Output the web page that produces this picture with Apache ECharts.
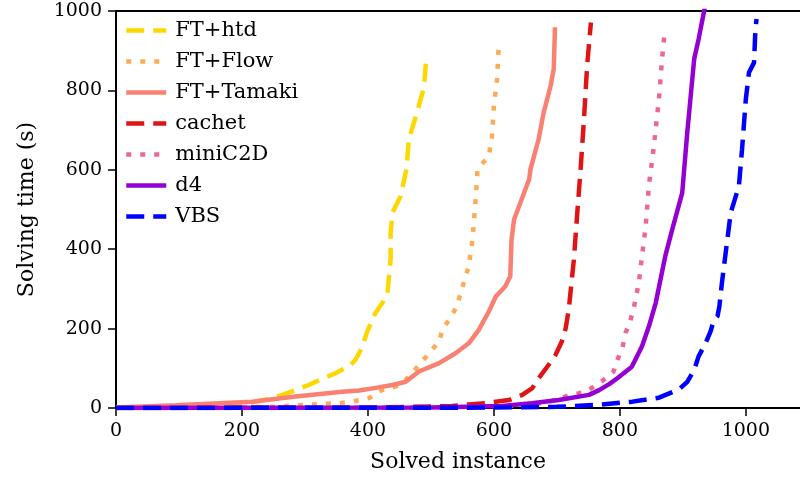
<!DOCTYPE html>
<html>
<head>
<meta charset="utf-8">
<script src="https://cdn.jsdelivr.net/npm/echarts@6/dist/echarts.min.js"></script>
<style>
  html, body { margin: 0; padding: 0; background: #fff; }
  #chart { width: 800px; height: 479px; }
</style>
</head>
<body>
<div id="chart"></div>
<script>
var names = ['FT+htd', 'FT+Flow', 'FT+Tamaki', 'cachet', 'miniC2D', 'd4', 'VBS'];

var htdX = [0, 100, 180, 216, 240, 264, 290, 306, 330, 349, 370, 380, 390, 399, 412, 423, 431, 436, 436, 439, 452, 461, 465, 478, 489, 492];
var htdY = [0, 2, 6, 14, 22, 33, 48, 58, 75, 88, 105, 121, 150, 193, 240, 265, 290, 374, 441, 492, 534, 601, 677, 745, 808, 870];

var flowX = [0, 150, 250, 300, 354, 380, 402, 422, 444, 460, 486, 497, 513, 518, 531, 541, 552, 560, 566, 571, 574, 592, 597, 600, 605, 608];
var flowY = [0, 1, 3, 8, 12, 18, 25, 45, 54, 71, 117, 138, 167, 197, 227, 256, 315, 357, 424, 525, 601, 635, 685, 761, 828, 925];

var tamakiX = [0, 95, 216, 285, 359, 386, 417, 439, 460, 481, 513, 539, 560, 576, 592, 603, 618, 626, 628, 632, 642, 656, 658, 671, 679, 690, 695, 697];
var tamakiY = [1, 7, 16, 29, 41, 44, 52, 58, 66, 92, 113, 138, 163, 197, 243, 281, 306, 332, 424, 475, 517, 576, 601, 677, 744, 811, 854, 959];

var cachetX = [0, 400, 533, 560, 587, 603, 624, 645, 661, 671, 687, 698, 708, 714, 719, 727, 732, 738, 743, 748, 754];
var cachetY = [0, 1, 5, 9, 12, 16, 20, 33, 50, 75, 109, 134, 168, 201, 250, 374, 483, 609, 727, 862, 971];

var miniX = [0, 500, 600, 660, 692, 714, 746, 772, 790, 796, 804, 809, 816, 822, 830, 841, 846, 854, 862, 867, 871];
var miniY = [0, 1, 3, 8, 18, 29, 41, 68, 92, 121, 151, 189, 216, 252, 315, 458, 559, 660, 778, 879, 946];

var d4X = [0, 500, 613, 660, 703, 751, 767, 783, 796, 819, 835, 846, 857, 872, 883, 899, 907, 912, 918, 925, 935];
var d4Y = [0, 1, 5, 12, 20, 33, 45, 60, 75, 104, 155, 205, 265, 382, 449, 542, 694, 778, 879, 929, 1010];

var vbsX = [0, 600, 700, 767, 820, 862, 894, 907, 918, 925, 936, 944, 949, 955, 958, 962, 968, 976, 989, 994, 1000, 1005, 1013, 1015, 1017];
var vbsY = [0, 1, 3, 8, 16, 26, 47, 66, 96, 130, 163, 193, 220, 231, 256, 315, 391, 492, 559, 652, 778, 845, 870, 946, 980];

var xTicks = [0, 200, 400, 600, 800, 1000];
var yTicks = [0, 200, 400, 600, 800, 1000];

var colors = ['#FFD700', '#FFAA55', '#FA8072', '#E01414', '#EE6699', '#9400D3', '#0000FF'];

function pairs(xs, ys) {
    return xs.map(function (x, i) { return [x, ys[i]]; });
}

var dashed = [18, 9];
var dotted = [5, 9];

var myChart = echarts.init(document.getElementById('chart'));

function line(name, xs, ys, color, type) {
    return {
        name: name,
        type: 'line',
        data: pairs(xs, ys),
        symbol: 'none',
        lineStyle: { color: color, width: 4.5, type: type, cap: 'butt' },
        itemStyle: { color: color },
        emphasis: { disabled: true },
        animation: false
    };
}

var font = 'DejaVu Serif';

var option = {
    animation: false,
    color: colors,
    grid: { left: 116, top: 11, right: 0, bottom: 71 },
    legend: {
        orient: 'vertical',
        left: 119,
        top: 15,
        itemWidth: 40,
        itemHeight: 14,
        itemGap: 10,
        data: names,
        itemStyle: { opacity: 0 },
        lineStyle: { width: 4.5, type: 'inherit', cap: 'butt' },
        textStyle: { fontFamily: font, fontSize: 21, color: '#000', padding: [0, 0, 0, 4] }
    },
    xAxis: [{
        type: 'value',
        min: 0,
        max: 1086,
        interval: 200,
        name: 'Solved instance',
        nameLocation: 'middle',
        nameGap: 43,
        nameTextStyle: { fontFamily: font, fontSize: 22, color: '#000' },
        splitLine: { show: false },
        axisLine: { show: true, lineStyle: { color: '#000', width: 2 } },
        axisTick: { show: true, inside: false, length: 8, lineStyle: { color: '#000', width: 1.5 } },
        axisLabel: {
            fontFamily: font, fontSize: 19, color: '#000', margin: 14, showMaxLabel: false,
            formatter: function (v) { return xTicks.indexOf(v) >= 0 ? String(v) : ''; }
        }
    }, {
        type: 'value',
        position: 'top',
        min: 0,
        max: 1086,
        axisLine: { show: true, lineStyle: { color: '#000', width: 2 } },
        axisTick: { show: false },
        axisLabel: { show: false },
        splitLine: { show: false }
    }],
    yAxis: {
        type: 'value',
        min: 0,
        max: 1000,
        interval: 200,
        name: 'Solving time (s)',
        nameLocation: 'middle',
        nameGap: 78,
        nameTextStyle: { fontFamily: font, fontSize: 22, color: '#000' },
        splitLine: { show: false },
        axisLine: { show: true, lineStyle: { color: '#000', width: 2 } },
        axisTick: { show: true, inside: false, length: 8, lineStyle: { color: '#000', width: 1.5 } },
        axisLabel: {
            fontFamily: font, fontSize: 19, color: '#000', margin: 14,
            formatter: function (v) { return yTicks.indexOf(v) >= 0 ? String(v) : ''; }
        }
    },
    series: [
        line(names[0], htdX, htdY, colors[0], dashed),
        line(names[1], flowX, flowY, colors[1], dotted),
        line(names[2], tamakiX, tamakiY, colors[2], 'solid'),
        line(names[3], cachetX, cachetY, colors[3], dashed),
        line(names[4], miniX, miniY, colors[4], dotted),
        line(names[5], d4X, d4Y, colors[5], 'solid'),
        line(names[6], vbsX, vbsY, colors[6], dashed)
    ]
};

myChart.setOption(option);
</script>
</body>
</html>
